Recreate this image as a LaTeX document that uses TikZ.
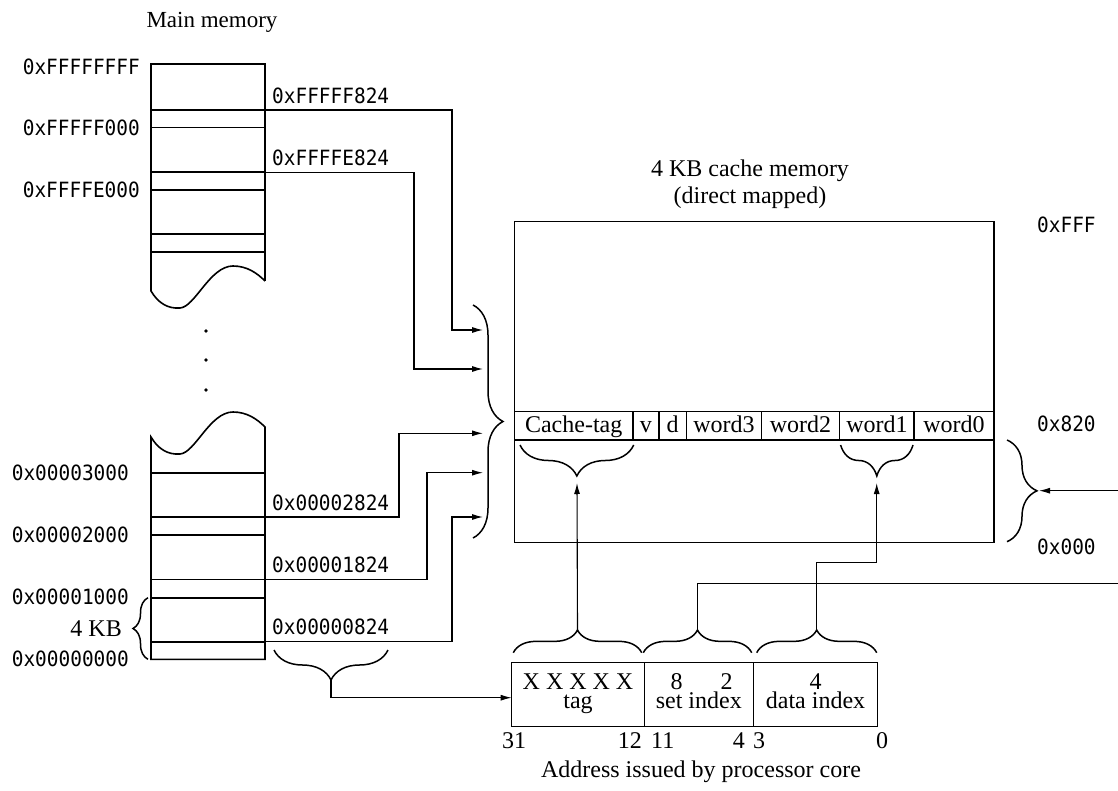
\documentclass[tikz,border=0pt]{standalone}
\usepackage{fontspec}
\setmainfont{Liberation Serif}
\newfontfamily\hexfont[FakeStretch=0.925]{DejaVu Sans Mono}
\usetikzlibrary{arrows.meta,decorations.pathreplacing}
\begin{document}
\begin{tikzpicture}[x=1pt,y=-1pt,
  mem/.style={line width=1.6pt},
  conn/.style={line width=1.1pt},
  arr/.style={conn,-{Latex[length=11pt,width=6pt]}},
  brc/.style={decorate,decoration={brace,amplitude=#1},line width=1.5pt},
  hex/.style={font=\hexfont\fontsize{21}{24}\selectfont, inner sep=0pt},
  txt/.style={font=\fontsize{24}{27}\selectfont, inner sep=0pt},
  cell/.style={font=\fontsize{24}{27}\selectfont, inner sep=0pt, anchor=base}]
\useasboundingbox (0,0) rectangle (1118,791);

% ---------- main memory ----------
\node[txt,anchor=base,font=\fontsize{23}{26}\selectfont] (mmtitle) at (212,28) {Main memory};
\draw[mem] (265,281) -- (265,64) -- (151,64) -- (151,291)
  .. controls (158,303) and (168,309) .. (180,308)
  .. controls (195,307) and (210,266) .. (233,266)
  .. controls (247,266) and (257,273) .. (265,281);
\draw[mem] (151,437)
  .. controls (158,449) and (168,455) .. (180,454)
  .. controls (195,453) and (210,412) .. (233,412)
  .. controls (247,412) and (257,419) .. (265,427)
  -- (265,659.3) -- (151,659.3) -- cycle;
\foreach \yy in {110,127.7,172.3,190,234,252,472.7,517,535,579.3,597.7,641.7}
  \draw[mem] (151,\yy) -- (265,\yy);
\foreach \yy/\nm in {331/d1,360/d2,390/d3}
  \fill (206,\yy) circle (1.8pt) coordinate (\nm);

\node[hex,anchor=east] (lFFFFFFFF) at (140,67) {0xFFFFFFFF};
\node[hex,anchor=east] (lFFFFF000) at (140,127.7) {0xFFFFF000};
\node[hex,anchor=east] (lFFFFE000) at (140,190) {0xFFFFE000};
\node[hex,anchor=east] (l3000) at (129,473) {0x00003000};
\node[hex,anchor=east] (l2000) at (129,535) {0x00002000};
\node[hex,anchor=east] (l1000) at (129,597) {0x00001000};
\node[hex,anchor=east] (l0000) at (129,659) {0x00000000};
\node[txt,anchor=east] (kb) at (122,629) {4 KB};
\draw[brc=15] (148,659.3) -- (148,597.7);

\node[hex,anchor=south west] (aF824) at (272,104) {0xFFFFF824};
\node[hex,anchor=south west] (aE824) at (272,166) {0xFFFFE824};
\node[hex,anchor=south west] (a2824) at (272,510.5) {0x00002824};
\node[hex,anchor=south west] (a1824) at (272,572.8) {0x00001824};
\node[hex,anchor=south west] (a0824) at (272,635.2) {0x00000824};

% connector end points
\coordinate (sF) at (265,110);   \coordinate (tF) at (483,330);
\coordinate (sE) at (265,172.3); \coordinate (tE) at (483,369);
\coordinate (s2) at (265,517);   \coordinate (t2) at (483,433.3);
\coordinate (s1) at (265,579.3); \coordinate (t1) at (483,472.7);
\coordinate (s0) at (265,641.7); \coordinate (t0) at (483,517);
\draw[arr] (sF) -- (452,110) |- (tF);
\draw[arr] (sE) -- (414,172.3) |- (tE);
\draw[arr] (s2) -- (399,517) |- (t2);
\draw[arr] (s1) -- (427,579.3) |- (t1);
\draw[arr] (s0) -- (452,641.7) |- (t0);

\draw[brc=30] (473,305) -- (473,538);

% offset brace under 0x00000824
\draw[brc=30] (388,650) -- (274,650);
\coordinate (offtip) at (331,680);

% ---------- cache ----------
\node[txt,anchor=base] (ctitle1) at (750,177) {4 KB cache memory};
\node[txt,anchor=base] (ctitle2) at (750,204) {(direct mapped)};
\draw[line width=1.6pt] (514.5,221.7) rectangle (994,542.3);
\draw[line width=1.3pt] (514.5,411.7) -- (994,411.7) (514.5,440) -- (994,440);
\foreach \xx in {632.9,658.9,686.6,761.3,839.8,914}
  \draw[line width=1.3pt] (\xx,411.7) -- (\xx,440);
\node[cell] (ctag) at (573.7,432) {Cache-tag};
\node[cell] (cv) at (645.9,432) {v};
\node[cell] (cd) at (672.7,432) {d};
\node[cell] (cw3) at (724,432) {word3};
\node[cell] (cw2) at (800.5,432) {word2};
\node[cell] (cw1) at (876.9,432) {word1};
\node[cell] (cw0) at (954,432) {word0};

\draw[brc=31] (633.7,445) -- (520,445);
\draw[brc=31] (913,445) -- (840.6,445);
\coordinate (tagtgt) at (577,483);
\coordinate (w1tgt) at (876.7,483);

\node[hex,anchor=west] (cFFF) at (1037,225) {0xFFF};
\node[hex,anchor=west] (c820) at (1037,424) {0x820};
\node[hex,anchor=west] (c000) at (1037,547) {0x000};
\draw[brc=30] (1007,440) -- (1007,541.7);
\coordinate (setin) at (1039,490.7);
\coordinate (rightA) at (1118,490.7);
\coordinate (rightB) at (1118,583.3);
\draw[arr] (rightA) -- (setin);

% ---------- address ----------
\draw[line width=1.4pt] (511.7,662.3) rectangle (877.7,726.7);
\draw[line width=1.4pt] (644.3,662.3) -- (644.3,726.7) (753.3,662.3) -- (753.3,726.7);
\coordinate (addrL) at (511.7,697.7);
\draw[brc=22.7] (513.3,652.7) -- (641.7,652.7);
\draw[brc=22.7] (643.3,652.7) -- (751.7,652.7);
\draw[brc=22.7] (756.7,652.7) -- (876.7,652.7);
\coordinate (tagtip) at (577.5,630);
\coordinate (settip) at (697.5,630);
\coordinate (datatip) at (816.7,630);

\node[cell] (xx) at (578,689) {X X X X X};
\node[cell] (tg) at (578,708) {tag};
\node[cell] (n8) at (676.7,689) {8};
\node[cell] (n2) at (726.7,689) {2};
\node[cell] (si) at (698.8,708) {set index};
\node[cell] (n4) at (815.5,689) {4};
\node[cell] (di) at (815.5,708) {data index};

\node[cell,anchor=base west] (b31) at (502,748.5) {31};
\node[cell,anchor=base east] (b12) at (642,748.5) {12};
\node[cell,anchor=base west] (b11) at (651,748.5) {11};
\node[cell,anchor=base east] (b4) at (745,748.5) {4};
\node[cell,anchor=base west] (b3) at (753,748.5) {3};
\node[cell] (b0) at (882,748.5) {0};
\node[cell] (addr) at (701,777) {Address issued by processor core};

% connectors
\draw[arr] (offtip) -- (331,697.7) -- (addrL);
\draw[arr] (tagtip) -- (tagtgt);
\draw[arr] (datatip) -- (816.7,562.7) -| (w1tgt);
\draw[conn] (settip) |- (rightB);
\end{tikzpicture}
\end{document}
